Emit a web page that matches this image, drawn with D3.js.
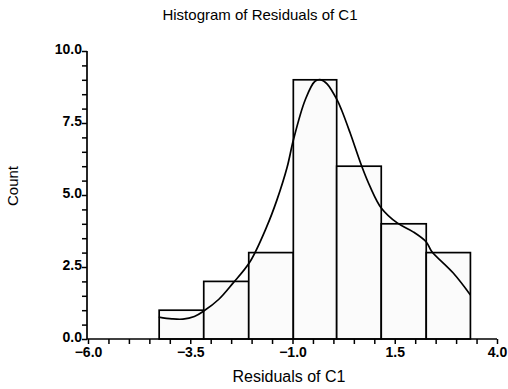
<!DOCTYPE html>
<html>
<head>
<meta charset="utf-8">
<script src="https://cdn.jsdelivr.net/npm/d3@7"></script>
<style>
  body { margin: 0; background: #fff; }
  text { font-family: "Liberation Sans", Arial, sans-serif; fill: #000; }
</style>
</head>
<body>
<div id="main"></div>
<script>
// histogram bins (edges) and counts
var binEdges = [-4.26, -3.17, -2.07, -0.98, 0.08, 1.17, 2.27, 3.35];
var counts = [1, 2, 3, 9, 6, 4, 3];

// smoothed density curve
var curveX = [-4.27, -3.95, -3.68, -3.4, -3.17, -2.8, -2.46, -2.04, -1.63, -1.38, -1.13, -0.98, -0.69, -0.45, -0.3, -0.15, 0.09, 0.2, 0.41, 0.70, 0.90, 1.17, 1.56, 1.95, 2.27, 2.4, 2.93, 3.35];
var curveY = [0.76, 0.70, 0.69, 0.78, 0.97, 1.38, 1.93, 2.68, 3.9, 4.83, 5.97, 6.9, 8.3, 8.95, 9.0, 8.85, 8.3, 7.95, 7.15, 5.97, 5.28, 4.55, 4.03, 3.72, 3.37, 3.05, 2.29, 1.53];

var xTickLabels = [-6.0, -3.5, -1.0, 1.5, 4.0];
var yTickLabels = [0.0, 2.5, 5.0, 7.5, 10.0];

var ctx = {
    w: 508,
    h: 389,
    left: 88,
    right: 497,
    top: 51,
    bottom: 339
};

var svg = d3.select("#main").append("svg")
    .attr("width", ctx.w)
    .attr("height", ctx.h);

var x = d3.scaleLinear().domain([-6, 4]).range([ctx.left, ctx.right]);
var y = d3.scaleLinear().domain([0, 10]).range([ctx.bottom, ctx.top]);

// bars
svg.selectAll(".bar")
    .data(counts)
    .enter().append("rect")
    .attr("class", "bar")
    .attr("x", function(d, i) { return x(binEdges[i]); })
    .attr("width", function(d, i) { return x(binEdges[i + 1]) - x(binEdges[i]); })
    .attr("y", function(d) { return y(d); })
    .attr("height", function(d) { return y(0) - y(d); })
    .style("fill", "#fbfbfb")
    .style("stroke", "#000")
    .style("stroke-width", 1.7);

// density curve
var pts = curveX.map(function(v, i) { return [v, curveY[i]]; });
svg.append("path")
    .datum(pts)
    .attr("d", d3.line()
        .x(function(d) { return x(d[0]); })
        .y(function(d) { return y(d[1]); })
        .curve(d3.curveCatmullRom))
    .style("fill", "none")
    .style("stroke", "#000")
    .style("stroke-width", 1.7);

// x axis: minor ticks every 0.5, labels every 2.5
var fmt = d3.format(".1f");
var xAxis = d3.axisBottom(x)
    .tickValues(d3.range(-6, 4.01, 0.5))
    .tickSize(5)
    .tickFormat(function(d) {
        return xTickLabels.some(function(t) { return Math.abs(t - d) < 1e-6; }) ? fmt(d) : "";
    });
var gx = svg.append("g")
    .attr("transform", "translate(0," + ctx.bottom + ")")
    .call(xAxis);

var yAxis = d3.axisLeft(y)
    .tickValues(d3.range(0, 10.01, 0.5))
    .tickSize(5)
    .tickFormat(function(d) {
        return yTickLabels.some(function(t) { return Math.abs(t - d) < 1e-6; }) ? fmt(d) : "";
    });
var gy = svg.append("g")
    .attr("transform", "translate(" + (ctx.left - 1) + ",0)")
    .call(yAxis);

[gx, gy].forEach(function(g) {
    g.select(".domain").attr("d", null);
    g.selectAll("line").style("stroke", "#000").style("stroke-width", 1.5);
    g.selectAll("text")
        .style("font-family", "'Liberation Sans', Arial, sans-serif")
        .style("font-size", "14px")
        .style("font-weight", "bold")
        .style("fill", "#000");
});
gx.selectAll("text").attr("y", 18).attr("dy", null);
gy.selectAll("text").attr("x", -5).attr("dy", "0.17em");

// axis lines
svg.append("line")
    .attr("x1", ctx.left - 1).attr("x2", ctx.left - 1)
    .attr("y1", y(10)).attr("y2", y(0))
    .style("stroke", "#000").style("stroke-width", 1.7);
svg.append("line")
    .attr("x1", x(-6) - 1).attr("x2", x(4))
    .attr("y1", y(0)).attr("y2", y(0))
    .style("stroke", "#000").style("stroke-width", 1.7);

// titles
svg.append("text")
    .attr("x", 260).attr("y", 20)
    .attr("text-anchor", "middle")
    .style("font-size", "15px")
    .text("Histogram of Residuals of C1");

svg.append("text")
    .attr("x", 289).attr("y", 382)
    .attr("text-anchor", "middle")
    .style("font-size", "16px")
    .text("Residuals of C1");

svg.append("text")
    .attr("transform", "translate(18,186) rotate(-90)")
    .attr("text-anchor", "middle")
    .style("font-size", "15px")
    .text("Count");
</script>
</body>
</html>
